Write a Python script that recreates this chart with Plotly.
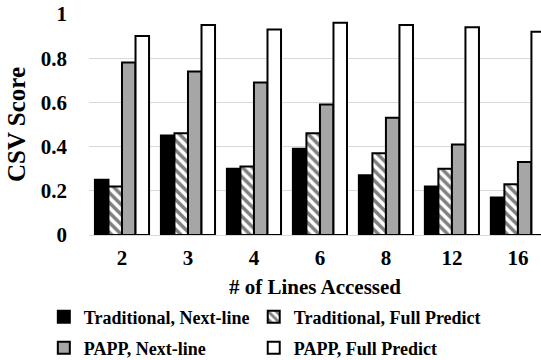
import plotly.graph_objects as go

# Number of cache lines accessed (x categories)
lines_accessed = ["2", "3", "4", "6", "8", "12", "16"]

# CSV score per configuration
trad_next = [0.25, 0.45, 0.30, 0.39, 0.27, 0.22, 0.17]
trad_full = [0.22, 0.46, 0.31, 0.46, 0.37, 0.30, 0.23]
papp_next = [0.78, 0.74, 0.69, 0.59, 0.53, 0.41, 0.33]
papp_full = [0.90, 0.95, 0.93, 0.96, 0.95, 0.94, 0.92]

FONT = "Liberation Serif"
OUTLINE = dict(color="black", width=2)

fig = go.Figure()
fig.add_trace(go.Bar(name="Traditional, Next-line", x=lines_accessed, y=trad_next,
                     marker=dict(color="black", line=OUTLINE), legend="legend"))
fig.add_trace(go.Bar(name="Traditional, Full Predict", x=lines_accessed, y=trad_full,
                     marker=dict(color="white", line=OUTLINE,
                                 pattern=dict(shape="\\", fgcolor="black", bgcolor="white",
                                              size=7, solidity=0.5)),
                     legend="legend2"))
fig.add_trace(go.Bar(name="PAPP, Next-line", x=lines_accessed, y=papp_next,
                     marker=dict(color="#a6a6a6", line=OUTLINE), legend="legend3"))
fig.add_trace(go.Bar(name="PAPP, Full Predict", x=lines_accessed, y=papp_full,
                     marker=dict(color="white", line=OUTLINE), legend="legend4"))

tick_font = dict(family=FONT, size=21, color="black", weight="bold")
legend_common = dict(orientation="h", xanchor="left", yanchor="middle",
                     xref="container", yref="container",
                     font=dict(family=FONT, size=18, color="black", weight="bold"),
                     bgcolor="rgba(0,0,0,0)", itemclick=False)

# two-by-two legend grid, in container coordinates
col_x = [0.081, 0.469]
row_y = [0.119, 0.033]

fig.update_layout(
    width=541, height=360,
    margin=dict(l=89, r=0, t=14, b=125, autoexpand=False),
    plot_bgcolor="white", paper_bgcolor="white",
    showlegend=True,
    barmode="group", bargap=0.18, bargroupgap=0,
    xaxis=dict(range=[-0.5, 6.35], showgrid=False,
               showline=True, linecolor="#d9d9d9", linewidth=1, ticks="",
               tickfont=tick_font, ticklabelstandoff=4,
               title=dict(text="# of Lines Accessed", standoff=19,
                          font=dict(family=FONT, size=21, color="black", weight="bold"))),
    yaxis=dict(range=[0, 1], dtick=0.2, showgrid=True, gridcolor="#d9d9d9", gridwidth=1,
               zeroline=False, showline=False, tickfont=tick_font, ticklabelstandoff=21,
               title=dict(text="CSV Score", standoff=8,
                          font=dict(family=FONT, size=25, color="black", weight="bold"))),
    legend=dict(x=col_x[0], y=row_y[0], **legend_common),
    legend2=dict(x=col_x[1], y=row_y[0], **legend_common),
    legend3=dict(x=col_x[0], y=row_y[1], **legend_common),
    legend4=dict(x=col_x[1], y=row_y[1], **legend_common),
)

fig.write_html("out.html")
